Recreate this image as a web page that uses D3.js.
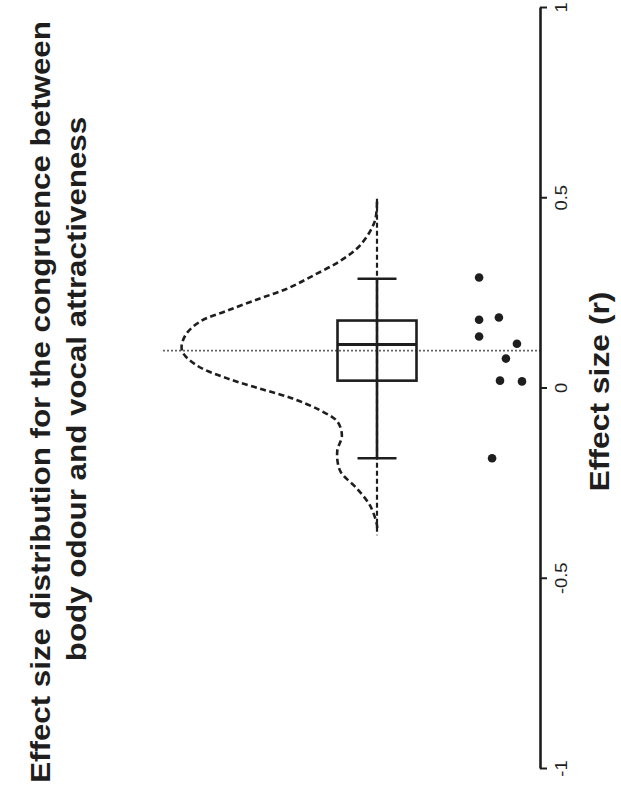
<!DOCTYPE html>
<html>
<head>
<meta charset="utf-8">
<script src="https://cdn.jsdelivr.net/npm/d3@7"></script>
<style>
  html, body { margin: 0; padding: 0; background: #fff; }
  svg { display: block; font-family: "Liberation Sans", Arial, Helvetica, sans-serif; }
</style>
</head>
<body>
<svg id="chart" width="621" height="799"></svg>
<script>
// ---------- data ----------
const titleLines = ["Effect size distribution for the congruence between", "body odour and vocal attractiveness"];
const axisTitle = "Effect size (r)";
const tickValues = [-1, -0.5, 0, 0.5, 1];
const tickLabels = ["-1", "-0.5", "0", "0.5", "1"];

// study effect sizes (points) and their horizontal jitter
const effects = [0.289, 0.178, 0.184, 0.134, 0.115, 0.076, 0.018, 0.016, -0.186];
const jitter  = [-0.95, -0.95, -0.05, -0.95, 0.77, 0.27, 0.0, 1.0, -0.36];

// box-plot summary
const boxQ1 = 0.018, boxMedian = 0.113, boxQ3 = 0.176;
const whiskerLow = -0.186, whiskerHigh = 0.286;
const meanEffect = 0.097;
const densityRange = [-0.388, 0.496];

// density curve (effect size, density)
const densityX = [0.488, 0.436, 0.373, 0.333, 0.294, 0.260, 0.234, 0.202, 0.173, 0.136, 0.097, 0.058, 0.024, -0.003, -0.029, -0.060, -0.089, -0.126, -0.168, -0.220, -0.265, -0.310, -0.362, -0.378];
const densityY = [0.00, 0.03, 0.22, 0.47, 0.82, 1.15, 1.50, 1.92, 2.27, 2.46, 2.50, 2.31, 1.92, 1.50, 1.08, 0.73, 0.51, 0.45, 0.51, 0.47, 0.26, 0.09, 0.00, 0.00];

// ---------- drawing ----------
const svg = d3.select("#chart");
const ink = "#1e1e1e";

const y = d3.scaleLinear().domain([-1, 1]).range([768, 7]);
const dens = d3.scaleLinear().domain([0, 2.5]).range([377, 182]);
const jit = d3.scaleLinear().domain([-1, 1]).range([478, 522]);
const boxCenter = 377, boxHalf = 39.5, capHalf = 19.5;

// title
const title = svg.append("g");
const tl = [{t: titleLines[0], x: 50, y: 402}, {t: titleLines[1], x: 86, y: 389}];
tl.forEach(d => {
  title.append("text")
    .attr("transform", `translate(${d.x},${d.y}) rotate(-90) scale(1.16,1)`)
    .attr("text-anchor", "middle")
    .attr("font-size", 27)
    .attr("font-weight", "bold")
    .attr("fill", ink)
    .text(d.t);
});

// mean dotted line
svg.append("line")
  .attr("x1", 163).attr("x2", 540)
  .attr("y1", y(meanEffect)).attr("y2", y(meanEffect))
  .attr("stroke", "#666").attr("stroke-width", 1.8)
  .attr("stroke-dasharray", "2,2");

// density baseline (dashed)
svg.append("line")
  .attr("x1", boxCenter).attr("x2", boxCenter)
  .attr("y1", y(densityRange[1])).attr("y2", y(densityRange[0]))
  .attr("stroke", ink).attr("stroke-width", 2.2)
  .attr("stroke-dasharray", "5,3");

// density curve
const pts = densityX.map((v, i) => [dens(densityY[i]), y(v)]);
svg.append("path")
  .attr("d", d3.line().curve(d3.curveCatmullRom)(pts))
  .attr("fill", "none")
  .attr("stroke", ink).attr("stroke-width", 2.6)
  .attr("stroke-dasharray", "6,3.5");

// whiskers
svg.append("line")
  .attr("x1", boxCenter).attr("x2", boxCenter)
  .attr("y1", y(whiskerHigh)).attr("y2", y(whiskerLow))
  .attr("stroke", ink).attr("stroke-width", 2.6);
[whiskerHigh, whiskerLow].forEach(v => {
  svg.append("line")
    .attr("x1", boxCenter - capHalf).attr("x2", boxCenter + capHalf)
    .attr("y1", y(v)).attr("y2", y(v))
    .attr("stroke", ink).attr("stroke-width", 2.6);
});

// box
svg.append("rect")
  .attr("x", boxCenter - boxHalf).attr("width", boxHalf * 2)
  .attr("y", y(boxQ3)).attr("height", y(boxQ1) - y(boxQ3))
  .attr("fill", "none").attr("stroke", ink).attr("stroke-width", 2.6);
svg.append("line")
  .attr("x1", boxCenter - boxHalf).attr("x2", boxCenter + boxHalf)
  .attr("y1", y(boxMedian)).attr("y2", y(boxMedian))
  .attr("stroke", ink).attr("stroke-width", 3.2);

// points
svg.append("g").selectAll("circle")
  .data(effects)
  .join("circle")
  .attr("cx", (d, i) => jit(jitter[i]))
  .attr("cy", d => y(d))
  .attr("r", 4.3)
  .attr("fill", ink);

// axis
const axis = d3.axisRight(y)
  .tickValues(tickValues)
  .tickFormat((d, i) => tickLabels[i])
  .tickSize(7)
  .tickSizeOuter(0);
const ax = svg.append("g").attr("transform", "translate(540,0)").call(axis);
ax.select(".domain").attr("stroke", ink).attr("stroke-width", 2.6);
ax.selectAll(".tick line").attr("stroke", ink).attr("stroke-width", 2);
ax.selectAll(".tick text")
  .attr("x", null).attr("dy", null)
  .attr("transform", "translate(27,0) rotate(-90) scale(1.15,1)")
  .attr("text-anchor", "middle")
  .attr("font-size", 16)
  .attr("font-family", "'Liberation Sans', Arial, sans-serif")
  .attr("fill", ink);

// axis title
svg.append("text")
  .attr("transform", `translate(609,${(y(-1) + y(1)) / 2 + 4}) rotate(-90) scale(1.18,1)`)
  .attr("text-anchor", "middle")
  .attr("font-size", 27)
  .attr("font-weight", "bold")
  .attr("fill", ink)
  .text(axisTitle);
</script>
</body>
</html>
